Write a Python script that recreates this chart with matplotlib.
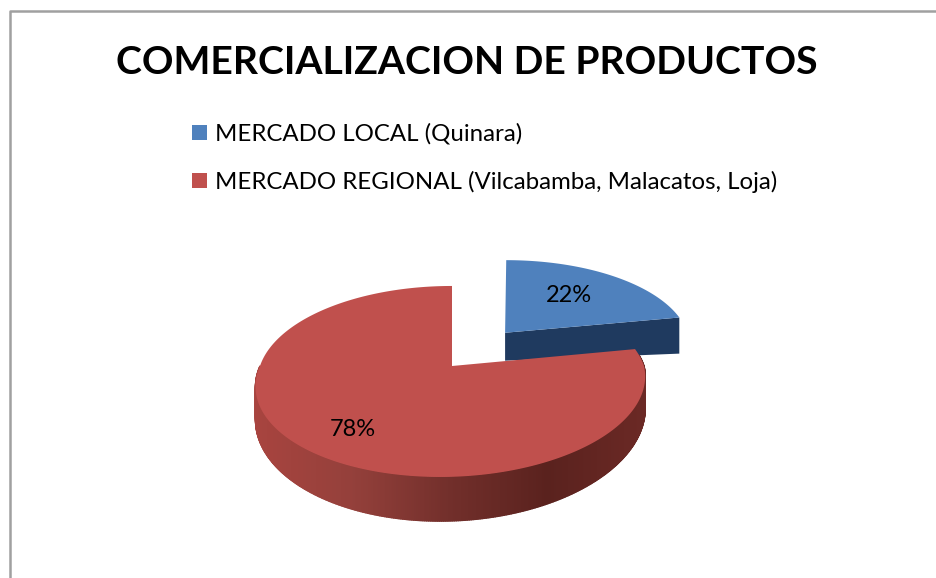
import numpy as np
import matplotlib
matplotlib.use("Agg")
import matplotlib.pyplot as plt
from matplotlib.collections import PolyCollection
from matplotlib.colors import LinearSegmentedColormap
from matplotlib.patches import Polygon, Rectangle

plt.rcParams['font.family'] = ['Lato', 'DejaVu Sans']

title = "COMERCIALIZACION DE PRODUCTOS"
labels = ["MERCADO LOCAL (Quinara)", "MERCADO REGIONAL (Vilcabamba, Malacatos, Loja)"]
values = [22, 78]
colors = ["#4F81BD", "#C0504D"]

# perspective of the pie, in pixels
cx, cy = 452, 366
rx, ry = 192, 93
persp = 0.162
skew = 10
d0 = 31
explode = 0.43
lift = 4

fig = plt.figure(figsize=(9.37, 5.78), dpi=100)
ax = fig.add_axes([0, 0, 1, 1])
ax.set_xlim(0, 937)
ax.set_ylim(578, 0)
ax.axis('off')


def project(u, v, front_only=False):
    w = 1 + persp * v
    s = np.minimum(v, 0) if front_only else v
    return cx + (rx * u + skew * s) / w, cy - ry * v / w


def depth(u, v):
    return d0 / (1 + persp * v) ** 2 + 38 * np.maximum(0, np.abs(u) - 1)


def arc(a0, a1, off=(0, 0), n=240):
    t = np.radians(np.linspace(a0, a1, n))
    return off[0] + np.cos(t), off[1] + np.sin(t)


def top_face(a0, a1, off=(0, 0), front_only=False):
    u, v = arc(a0, a1, off)
    u = np.r_[off[0], u]
    v = np.r_[off[1], v]
    return np.column_stack(project(u, v, front_only))


# slices start at 12 o'clock and go clockwise
a_start = 90
a_split = a_start - values[0] / sum(values) * 360
a_end = a_split - values[1] / sum(values) * 360
mid = np.radians((a_start + a_split) / 2)
off = (explode * np.cos(mid), explode * np.sin(mid))

# blue slice, cut face then top
pts_u = np.array([off[0], np.cos(np.radians(a_split)) + off[0]])
pts_v = np.array([off[1], np.sin(np.radians(a_split)) + off[1]])
x, y = project(pts_u, pts_v)
y = y - lift
d = depth(pts_u, pts_v)
ax.add_patch(Polygon(np.column_stack([np.r_[x, x[::-1]], np.r_[y, (y + d)[::-1]]]),
                     fc="#1F3A5F", ec="none", zorder=2))
blue_top = top_face(a_split, a_start, off)
blue_top[:, 1] -= lift
ax.add_patch(Polygon(blue_top, fc=colors[0], ec="none", zorder=3))

# red slice, shaded rim (front part only) then top
side_cmap = LinearSegmentedColormap.from_list(
    "side", ["#A8443F", "#94403B", "#722F2B", "#5A221E", "#6B2925"])
u, v = arc(-180, a_split - 4, n=400)
x, y = project(u, v, True)
d = depth(u, v)
quads = [[(x[i], y[i]), (x[i + 1], y[i + 1]), (x[i + 1], y[i + 1] + d[i + 1]), (x[i], y[i] + d[i])]
         for i in range(len(x) - 1)]
rim = PolyCollection(quads, cmap=side_cmap, linewidths=1.0, zorder=4)
rim.set_array((x[:-1] - x.min()) / (x.max() - x.min()))
rim.set_edgecolor("face")
ax.add_collection(rim)
ax.add_patch(Polygon(top_face(a_end, a_split, front_only=True), fc=colors[1], ec="none", zorder=5))

# chart frame, only left and top are inside the picture
ax.plot([9.7, 9.7, 937], [578, 10.5, 10.5], color="#A0A0A0", lw=1.8, zorder=1)

ax.text(467, 62, title, fontsize=28.2, fontweight='bold', ha='center', va='center', color='black', zorder=6)

for label, color, y_mid in zip(labels, colors, [132.5, 180.5]):
    ax.add_patch(Rectangle((192, y_mid - 7.5), 15, 15, fc=color, ec="none", zorder=6))
    ax.text(215, y_mid + 1, label, fontsize=17.3, ha='left', va='center', color='black', zorder=6)

ax.text(569, 295, f"{values[0]}%", fontsize=17, ha='center', va='center', color='black', zorder=6)
ax.text(353, 429, f"{values[1]}%", fontsize=17, ha='center', va='center', color='black', zorder=6)

fig.savefig("out.png", dpi=100)
